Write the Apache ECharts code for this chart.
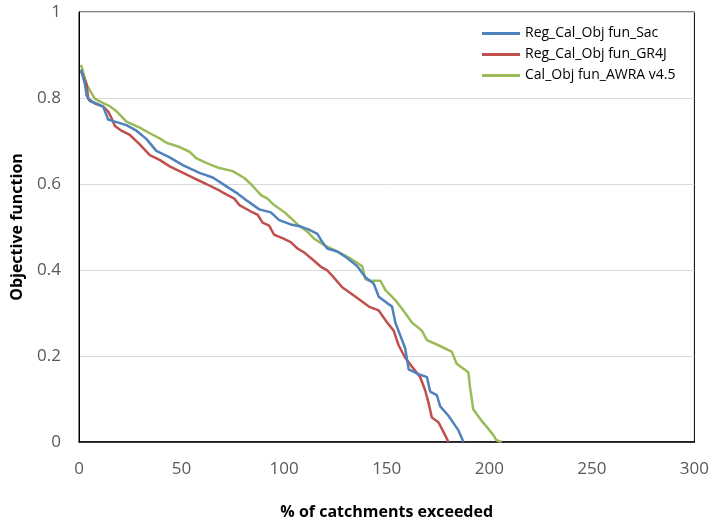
<!DOCTYPE html>
<html>
<head>
<meta charset="utf-8">
<script src="https://cdn.jsdelivr.net/npm/echarts@6/dist/echarts.min.js"></script>
<style>
  html, body { margin: 0; padding: 0; background: #fff; }
  #chart { width: 712px; height: 525px; }
</style>
</head>
<body>
<div id="chart"></div>
<script>
// Objective function values sorted against % of catchments exceeded
const seriesNames = ['Reg_Cal_Obj fun_Sac', 'Reg_Cal_Obj fun_GR4J', 'Cal_Obj fun_AWRA v4.5'];

const sacX = [1, 2.9, 3.7, 5.3, 8.6, 11.8, 14.2, 17.5, 23.1, 28, 32.8, 37.7, 44.2, 50.6, 58.7, 65.2, 71.7, 76.6, 81.4, 87.9, 93.5, 97.6, 103.2, 108.1, 112.1, 116.2, 118.6, 121, 125.9, 130.7, 135.6, 139.6, 143.7, 146.1, 150.2, 152.6, 154.2, 156.6, 159, 160.7, 165.5, 169.6, 171.2, 174.4, 176.1, 180.1, 183.4, 185, 187.4];
const sacY = [0.866, 0.832, 0.806, 0.793, 0.787, 0.78, 0.75, 0.745, 0.737, 0.724, 0.705, 0.677, 0.662, 0.644, 0.626, 0.615, 0.595, 0.58, 0.563, 0.541, 0.534, 0.516, 0.506, 0.501, 0.494, 0.484, 0.465, 0.45, 0.443, 0.428, 0.409, 0.383, 0.368, 0.338, 0.323, 0.315, 0.278, 0.248, 0.218, 0.169, 0.158, 0.151, 0.117, 0.109, 0.083, 0.061, 0.038, 0.027, 0];

const gr4jX = [1, 3.7, 4.5, 7.8, 11.8, 14.2, 15.9, 17.5, 20.7, 24.8, 29.6, 34.5, 39.3, 44.2, 49, 55.5, 62, 68.4, 70.9, 75.7, 78.2, 83.8, 87, 89.5, 92.7, 95.1, 99.2, 103.2, 106.5, 109.7, 113, 117.8, 121, 123.4, 128.3, 134.8, 141.3, 146.1, 150.2, 153.4, 155.8, 159, 163.8, 166.3, 168.7, 170.4, 172, 175.2, 177.7, 180.1];
const gr4jY = [0.862, 0.832, 0.798, 0.787, 0.78, 0.769, 0.753, 0.735, 0.724, 0.714, 0.692, 0.667, 0.656, 0.641, 0.63, 0.615, 0.6, 0.585, 0.578, 0.566, 0.551, 0.536, 0.529, 0.51, 0.503, 0.482, 0.474, 0.465, 0.45, 0.441, 0.428, 0.408, 0.399, 0.387, 0.36, 0.338, 0.315, 0.306, 0.278, 0.259, 0.225, 0.196, 0.166, 0.151, 0.121, 0.091, 0.057, 0.046, 0.023, 0];

const awraX = [1, 3.7, 6.2, 7.8, 11.8, 15, 18.3, 23.1, 29.6, 34.5, 39.3, 42.6, 49, 53.9, 57.1, 62, 68.4, 74.9, 80.6, 84.6, 88.7, 91.9, 95.1, 100, 103.2, 106.5, 111.3, 114.6, 119.4, 124.3, 129.1, 133.2, 138, 139.6, 141.3, 146.9, 149.4, 154.2, 159, 162.3, 167.1, 169.6, 175.2, 181.7, 182.5, 184.1, 189.8, 190.6, 192.2, 196.3, 199.5, 202, 203.5, 206];
const awraY = [0.877, 0.832, 0.81, 0.798, 0.788, 0.781, 0.769, 0.745, 0.731, 0.718, 0.706, 0.696, 0.686, 0.675, 0.66, 0.649, 0.637, 0.63, 0.614, 0.596, 0.574, 0.566, 0.551, 0.535, 0.521, 0.506, 0.489, 0.473, 0.458, 0.447, 0.435, 0.424, 0.409, 0.379, 0.375, 0.375, 0.353, 0.33, 0.3, 0.278, 0.259, 0.237, 0.225, 0.21, 0.207, 0.182, 0.162, 0.128, 0.076, 0.049, 0.031, 0.016, 0.004, 0];

const colors = ['#4F81BD', '#C0504D', '#9BBB59'];

function pairs(xs, ys) {
  return xs.map((x, i) => [x, ys[i]]);
}

const seriesData = [pairs(sacX, sacY), pairs(gr4jX, gr4jY), pairs(awraX, awraY)];

const font = 'Open Sans, Liberation Sans, sans-serif';

const chart = echarts.init(document.getElementById('chart'), null, { renderer: 'canvas' });

chart.setOption({
  animation: false,
  backgroundColor: '#ffffff',
  color: colors,
  grid: {
    left: 79, right: 17, top: 12, bottom: 69,
    show: true,
    borderColor: '#000000',
    borderWidth: 1
  },
  legend: {
    orient: 'vertical',
    left: 477,
    top: 21,
    icon: 'rect',
    itemWidth: 38,
    itemHeight: 3,
    itemGap: 6,
    itemTextGap: 4,
    textStyle: { fontFamily: font, fontSize: 14, lineHeight: 15, color: '#000000' },
    data: seriesNames
  },
  xAxis: {
    type: 'value',
    min: 0, max: 300, interval: 50,
    name: '% of catchments exceeded',
    nameLocation: 'middle',
    nameGap: 62,
    nameTextStyle: { fontFamily: font, fontSize: 16, fontWeight: 'bold', color: '#000000' },
    axisLine: { show: true, onZero: false, lineStyle: { color: '#000000', width: 1.5 } },
    axisTick: { show: false },
    splitLine: { show: false },
    axisLabel: { fontFamily: font, fontSize: 17, color: '#595959', margin: 19 }
  },
  yAxis: {
    type: 'value',
    min: 0, max: 1, interval: 0.2,
    name: 'Objective function',
    nameLocation: 'middle',
    nameGap: 54,
    nameTextStyle: { fontFamily: font, fontSize: 16, fontWeight: 'bold', color: '#000000' },
    axisLine: { show: true, lineStyle: { color: '#000000', width: 1 } },
    axisTick: { show: false },
    splitLine: { show: true, lineStyle: { color: '#D9D9D9', width: 1 } },
    axisLabel: { fontFamily: font, fontSize: 17, color: '#595959', margin: 18 }
  },
  series: seriesNames.map((name, i) => ({
    name: name,
    type: 'line',
    data: seriesData[i],
    symbol: 'none',
    lineStyle: { width: 2.5, color: colors[i] },
    itemStyle: { color: colors[i] },
    z: 3 - i
  }))
});
</script>
</body>
</html>
